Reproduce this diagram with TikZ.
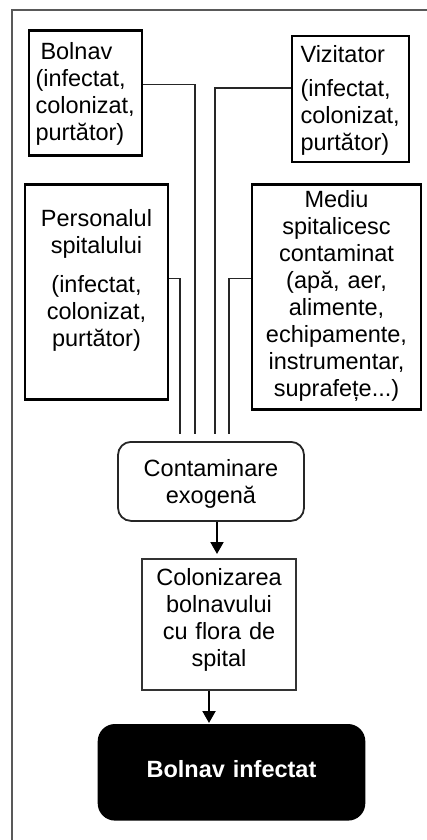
\documentclass[tikz,border=0pt]{standalone}
\usepackage{fontspec}
\setmainfont{Liberation Sans}
\usetikzlibrary{arrows.meta,positioning,calc}

\begin{document}
\begin{tikzpicture}[
  x=1pt,y=-1pt,
  box/.style={draw=black, line width=2.6pt, anchor=north, inner ysep=0pt, font=\fontsize{23.5}{27}\selectfont},
  soft/.style={box, rounded corners=13pt, line width=1.8pt, draw=black!85},
  plain/.style={box, line width=1.6pt, draw=black!80},
  dark/.style={box, rounded corners=16pt, fill=black, text=white, font=\fontsize{23.5}{27}\selectfont\bfseries},
  link/.style={line width=1.5pt, draw=black!85, shorten >=7pt},
  arrow/.style={-{Triangle[length=12pt,width=13pt]}, line width=2pt},
  frame/.style={line width=2pt, draw=black!65}
]
\useasboundingbox (0,0) rectangle (426,840);
\draw[frame] (12,850) |- (440,10);

% sources
\node[box, align=left, text width=100pt, inner xsep=6.5pt, text height=29pt, text depth=96pt] (bolnav) at (85.5,29) {\hspace{5pt}Bolnav\\(infectat,\\colonizat,\\purtător)};
\node[box, line width=2.2pt, align=left, text width=100pt, inner xsep=8.5pt, text height=26pt, text depth=100pt] (vizitator) at (350.5,35) {Vizitator\\[7pt](infectat,\\colonizat,\\purtător)};
\node[box, align=center, text width=131pt, inner xsep=6pt, text height=42pt, text depth=173pt] (personal) at (96.5,183) {Personalul\\spitalului\\[12pt](infectat,\\colonizat,\\purtător)};
\node[box, align=center, text width=155pt, inner xsep=7pt, text height=23pt, text depth=202pt] (mediu) at (336.5,183) {Mediu\\spitalicesc\\contaminat\\(apă, aer,\\alimente,\\echipamente,\\instrumentar,\\suprafețe...)};

% chain
\node[soft, align=center, text width=172pt, inner xsep=7pt, text height=35pt, text depth=44pt] (contam) at (211,441) {Contaminare\\exogenă};
\node[plain, align=center, text width=140pt, inner xsep=7pt, text height=27pt, text depth=104pt] (coloniz) at (219,558) {Colonizarea\\bolnavului\\cu flora de\\spital};
\node[dark, align=center, text width=251pt, inner xsep=7pt, text height=52pt, text depth=42pt] (infectat) at (231.5,724) {Bolnav infectat};

\draw[link] ([yshift=8.5pt]bolnav.east) -| ([xshift=-16pt]contam.north);
\draw[link] ([yshift=11pt]vizitator.west) -| ([xshift=4pt]contam.north);
\draw[link] ([yshift=13.5pt]personal.east) -| ([xshift=-31pt]contam.north);
\draw[link] ([yshift=18.5pt]mediu.west) -| ([xshift=18pt]contam.north);

\coordinate (c1) at ([xshift=-2pt]coloniz.north);
\coordinate (c2) at ([xshift=-10pt]coloniz.south);
\draw[arrow, shorten >=4pt] (c1 |- contam.south) -- (c1);
\draw[arrow, shorten >=1pt] (c2) -- (c2 |- infectat.north);
\end{tikzpicture}
\end{document}
